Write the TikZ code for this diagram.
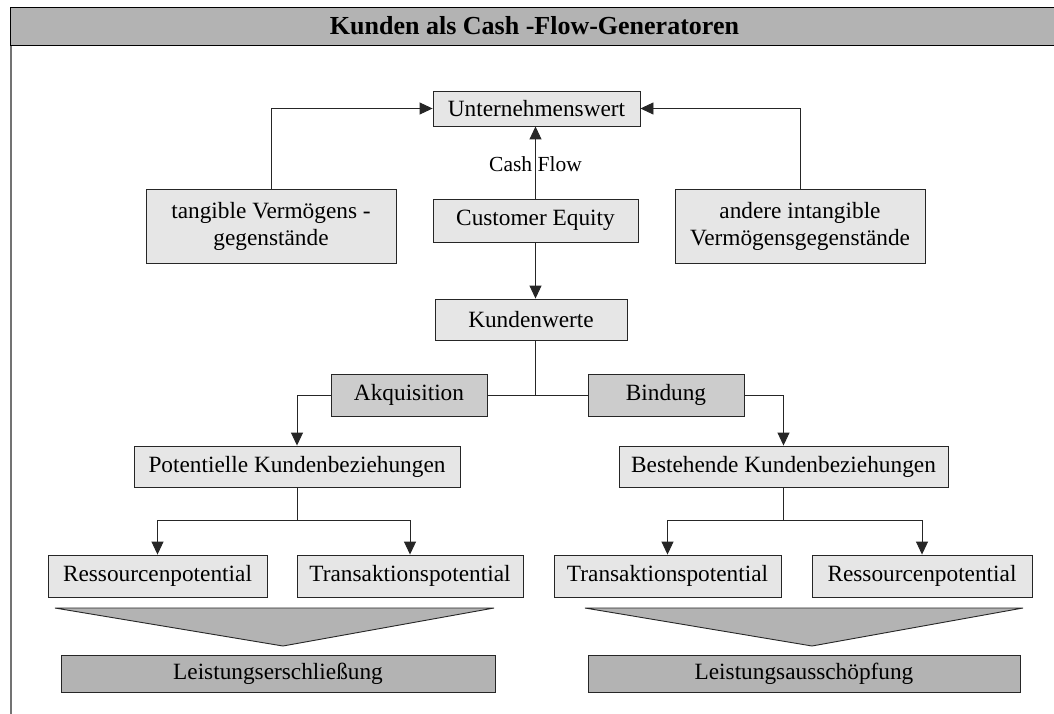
\documentclass[tikz,border=0pt]{standalone}
\usepackage{fontspec}
\setmainfont{Liberation Serif}
\usetikzlibrary{arrows.meta}
\definecolor{boxlight}{HTML}{E6E6E6}
\definecolor{boxmid}{HTML}{CCCCCC}
\definecolor{boxdark}{HTML}{B3B3B3}
\begin{document}
\begin{tikzpicture}[x=1pt,y=-1pt,
  base/.style={draw=black!85, line width=0.9pt, inner sep=0pt, align=center, font=\fontsize{23.3}{27}\selectfont},
  lightbox/.style={base, fill=boxlight},
  midbox/.style={base, fill=boxmid},
  darkbox/.style={base, fill=boxdark},
  conn/.style={line width=0.9pt, draw=black!85},
  arr/.style={conn, -{Triangle[length=13pt,width=12pt]}},
  funnel/.style={fill=boxdark, draw=black!85, line width=0.9pt}
]
\useasboundingbox (0,0) rectangle (1054,714);
\fill[white] (0,0) rectangle (1054,714);
% frame
\draw[line width=1.5pt, black!55] (11,45) -- (11,714);
\node[draw=black, line width=1.2pt, fill=boxdark, minimum width=1060pt, minimum height=38pt, anchor=north west, inner sep=0pt] (title) at (10,7) {};
\node[inner sep=0pt, font=\fontsize{26}{29}\selectfont\bfseries] (titletext) at (534.5,26) {Kunden als Cash -Flow-Generatoren};

% top level
\node[lightbox, minimum width=207pt, minimum height=35pt] (uw) at (536.5,108.5) {Unternehmenswert};
\node[lightbox, minimum width=205pt, minimum height=43pt] (ce) at (535.5,220.5) {Customer Equity};
\node[lightbox, minimum width=250pt, minimum height=74pt] (tv) at (271,226) {tangible Vermögens -\\gegenstände};
\node[lightbox, minimum width=250pt, minimum height=74pt] (aiv) at (800,226) {andere intangible\\Vermögensgegenstände};
\node[lightbox, minimum width=192pt, minimum height=41pt] (kw) at (531,319.5) {Kundenwerte};

% second level
\node[midbox, minimum width=156pt, minimum height=42pt] (akq) at (409,395) {Akquisition};
\node[midbox, minimum width=156pt, minimum height=42pt] (bin) at (666,395) {Bindung};
\node[lightbox, minimum width=326pt, minimum height=41pt] (pkb) at (297,466.5) {Potentielle Kundenbeziehungen};
\node[lightbox, minimum width=329pt, minimum height=41pt] (bkb) at (783.5,466.5) {Bestehende Kundenbeziehungen};

% potentials
\node[lightbox, minimum width=219pt, minimum height=42pt] (rp1) at (157.5,576) {Ressourcenpotential};
\node[lightbox, minimum width=226pt, minimum height=42pt] (tp1) at (410,576) {Transaktionspotential};
\node[lightbox, minimum width=227pt, minimum height=42pt] (tp2) at (667.5,576) {Transaktionspotential};
\node[lightbox, minimum width=220pt, minimum height=42pt] (rp2) at (922,576) {Ressourcenpotential};

% funnels
\filldraw[funnel] (55,608) -- (494,608) -- (283,646) -- cycle;
\filldraw[funnel] (585,608) -- (1023,608) -- (812,646) -- cycle;
\node[darkbox, minimum width=434pt, minimum height=37pt] (le) at (278,673.5) {Leistungserschließung};
\node[darkbox, minimum width=432pt, minimum height=37pt] (la) at (804,673.5) {Leistungsausschöpfung};

% connectors
\draw[arr] (tv.north) |- (uw.west);
\draw[arr] (aiv.north) |- (uw.east);
\node[inner sep=0pt, font=\fontsize{21.5}{25}\selectfont] (cf) at (535.5,164) {Cash Flow};
\draw[arr] (ce.north) -- (ce.north |- uw.south);
\draw[arr] (ce.south) -- (ce.south |- kw.north);
\draw[conn] (kw.south -| ce.south) -- (ce.south |- akq.east);
\draw[conn] (akq.east) -- (bin.west);
\draw[arr] (akq.west) -| (pkb.north);
\draw[arr] (bin.east) -| (bkb.north);
\draw[arr] (pkb.south) -- ++(0,33) -| (rp1.north);
\draw[arr] (pkb.south) -- ++(0,33) -| (tp1.north);
\draw[arr] (bkb.south) -- ++(0,33) -| (tp2.north);
\draw[arr] (bkb.south) -- ++(0,33) -| (rp2.north);
\end{tikzpicture}
\end{document}
